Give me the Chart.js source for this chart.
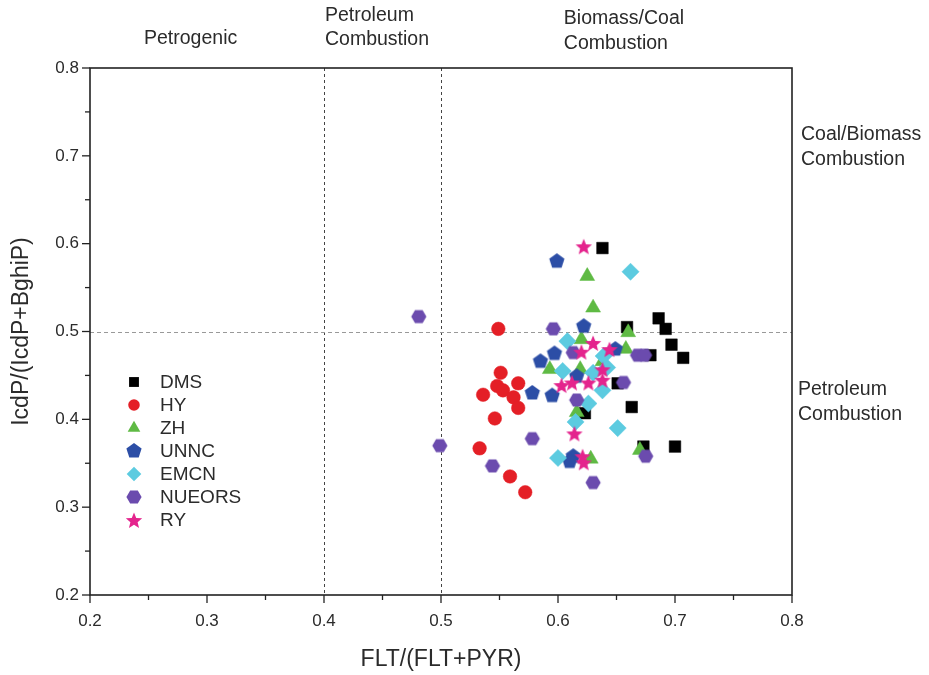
<!DOCTYPE html>
<html>
<head>
<meta charset="utf-8">
<script src="https://cdn.jsdelivr.net/npm/chart.js@4.4.0/dist/chart.umd.min.js"></script>
<style>
  html, body { margin: 0; padding: 0; background: #fff; }
  #wrap { width: 929px; height: 675px; }
</style>
</head>
<body>
<div id="wrap"><canvas id="pahChart" width="929" height="675"></canvas></div>
<script>
// sampling sites and their colours
const sites = ["DMS", "HY", "ZH", "UNNC", "EMCN", "NUEORS", "RY"];
const siteColors = ["#000000", "#e41f26", "#5fba44", "#2c4ea6", "#5ccbe0", "#6b4bae", "#e4248d"];

// FLT/(FLT+PYR) and IcdP/(IcdP+BghiP)
const dmsFlt = [0.638, 0.659, 0.686, 0.692, 0.697, 0.707, 0.679, 0.651, 0.663, 0.623, 0.673, 0.700];
const dmsIcd = [0.595, 0.505, 0.515, 0.503, 0.485, 0.470, 0.473, 0.441, 0.414, 0.407, 0.369, 0.369];
const hyFlt = [0.549, 0.551, 0.548, 0.553, 0.536, 0.566, 0.562, 0.566, 0.546, 0.533, 0.559, 0.572];
const hyIcd = [0.503, 0.453, 0.438, 0.433, 0.428, 0.441, 0.425, 0.413, 0.401, 0.367, 0.335, 0.317];
const zhFlt = [0.625, 0.630, 0.660, 0.620, 0.658, 0.593, 0.619, 0.638, 0.616, 0.628, 0.670];
const zhIcd = [0.563, 0.527, 0.499, 0.491, 0.480, 0.457, 0.457, 0.466, 0.408, 0.355, 0.365];
const unncFlt = [0.599, 0.622, 0.649, 0.597, 0.585, 0.578, 0.595, 0.616, 0.613, 0.610];
const unncIcd = [0.580, 0.506, 0.480, 0.475, 0.466, 0.430, 0.427, 0.449, 0.358, 0.352];
const emcnFlt = [0.662, 0.608, 0.639, 0.604, 0.630, 0.642, 0.638, 0.626, 0.615, 0.651, 0.600];
const emcnIcd = [0.568, 0.489, 0.472, 0.455, 0.453, 0.459, 0.433, 0.418, 0.397, 0.390, 0.356];
const nueorsFlt = [0.481, 0.499, 0.544, 0.596, 0.613, 0.668, 0.674, 0.656, 0.616, 0.578, 0.630, 0.675];
const nueorsIcd = [0.517, 0.370, 0.347, 0.503, 0.476, 0.473, 0.473, 0.442, 0.422, 0.378, 0.328, 0.358];
const ryFlt = [0.622, 0.630, 0.620, 0.644, 0.638, 0.638, 0.603, 0.612, 0.626, 0.614, 0.621, 0.622];
const ryIcd = [0.597, 0.487, 0.477, 0.480, 0.457, 0.445, 0.439, 0.442, 0.442, 0.384, 0.358, 0.351];

const siteFlt = [dmsFlt, hyFlt, zhFlt, unncFlt, emcnFlt, nueorsFlt, ryFlt];
const siteIcd = [dmsIcd, hyIcd, zhIcd, unncIcd, emcnIcd, nueorsIcd, ryIcd];

// axes
const xTickLabels = ["0.2", "0.3", "0.4", "0.5", "0.6", "0.7", "0.8"];
const yTickLabels = ["0.2", "0.3", "0.4", "0.5", "0.6", "0.7", "0.8"];
const fltSplits = [0.4, 0.5];
const icdSplits = [0.5];

// small canvases for the markers chart.js has no filled version of
function polygonMarker(sides, r, color, rot) {
  const c = document.createElement("canvas");
  const s = Math.ceil(2 * r + 2);
  c.width = s; c.height = s;
  const g = c.getContext("2d");
  g.fillStyle = color;
  g.beginPath();
  for (let i = 0; i < sides; i++) {
    const a = rot + i * 2 * Math.PI / sides;
    g.lineTo(s / 2 + r * Math.cos(a), s / 2 + r * Math.sin(a));
  }
  g.closePath();
  g.fill();
  return c;
}
function starMarker(ro, ri, color) {
  const c = document.createElement("canvas");
  const s = Math.ceil(2 * ro + 2);
  c.width = s; c.height = s;
  const g = c.getContext("2d");
  g.fillStyle = color;
  g.beginPath();
  for (let i = 0; i < 10; i++) {
    const r = i % 2 ? ri : ro;
    const a = -Math.PI / 2 + i * Math.PI / 5;
    g.lineTo(s / 2 + r * Math.cos(a), s / 2 + 1 + r * Math.sin(a));
  }
  g.closePath();
  g.fill();
  return c;
}

const markers = [
  { pointStyle: "rect", radius: 8.2 },
  { pointStyle: "circle", radius: 6.8 },
  { pointStyle: "triangle", radius: 8.6 },
  { pointStyle: polygonMarker(5, 8, siteColors[3], -Math.PI / 2), radius: 7.5 },
  { pointStyle: "rectRot", radius: 8.6 },
  { pointStyle: polygonMarker(6, 7.6, siteColors[5], 0), radius: 7.5 },
  { pointStyle: starMarker(8.6, 3.8, siteColors[6]), radius: 7.5 }
];

const datasets = sites.map((name, i) => ({
  label: name,
  data: siteFlt[i].map((v, k) => ({ x: v, y: siteIcd[i][k] })),
  backgroundColor: siteColors[i],
  borderColor: siteColors[i],
  borderWidth: 0.5,
  pointStyle: markers[i].pointStyle,
  pointRadius: markers[i].radius,
  pointHoverRadius: markers[i].radius,
  order: sites.length - i
}));

const textColor = "#2b2b2b";
const fontFamily = "'Liberation Sans', Arial, sans-serif";

const decorPlugin = {
  id: "decor",
  beforeDatasetsDraw(chart) {
    const { ctx, chartArea: a, scales: { x, y } } = chart;
    ctx.save();
    ctx.lineWidth = 1;
    ctx.strokeStyle = "#444";
    ctx.setLineDash([3, 3]);
    fltSplits.forEach(v => {
      const px = Math.round(x.getPixelForValue(v)) + 0.5;
      ctx.beginPath(); ctx.moveTo(px, a.top); ctx.lineTo(px, a.bottom); ctx.stroke();
    });
    ctx.strokeStyle = "#999";
    ctx.setLineDash([4, 3]);
    icdSplits.forEach(v => {
      const py = Math.round(y.getPixelForValue(v)) + 0.5;
      ctx.beginPath(); ctx.moveTo(a.left, py); ctx.lineTo(a.right, py); ctx.stroke();
    });
    ctx.restore();
  },
  afterDraw(chart) {
    const { ctx, chartArea: a, scales: { x, y } } = chart;
    ctx.save();
    // frame
    ctx.strokeStyle = "#222";
    ctx.lineWidth = 1.6;
    ctx.strokeRect(a.left, a.top, a.right - a.left, a.bottom - a.top);
    // major and minor ticks on bottom and left
    ctx.lineWidth = 1.3;
    for (let k = 0; k <= 12; k++) {
      const v = 0.2 + k * 0.05;
      const len = k % 2 ? 5 : 8;
      const px = x.getPixelForValue(v);
      ctx.beginPath(); ctx.moveTo(px, a.bottom); ctx.lineTo(px, a.bottom + len); ctx.stroke();
      const py = y.getPixelForValue(v);
      ctx.beginPath(); ctx.moveTo(a.left, py); ctx.lineTo(a.left - len, py); ctx.stroke();
    }
    // region labels
    ctx.fillStyle = textColor;
    ctx.font = "19.5px " + fontFamily;
    ctx.textBaseline = "middle";
    ctx.textAlign = "center";
    ctx.fillText("Petrogenic", x.getPixelForValue(0.286), a.top - 29);
    ctx.textAlign = "left";
    const p4 = x.getPixelForValue(0.4) + 1;
    ctx.fillText("Petroleum", p4, a.top - 52);
    ctx.fillText("Combustion", p4, a.top - 28);
    const p6 = x.getPixelForValue(0.605);
    ctx.fillText("Biomass/Coal", p6, a.top - 49);
    ctx.fillText("Combustion", p6, a.top - 24);
    ctx.fillText("Coal/Biomass", a.right + 9, y.getPixelForValue(0.71) - 12);
    ctx.fillText("Combustion", a.right + 9, y.getPixelForValue(0.71) + 13);
    ctx.fillText("Petroleum", a.right + 6, y.getPixelForValue(0.42) - 12);
    ctx.fillText("Combustion", a.right + 6, y.getPixelForValue(0.42) + 13);
    // legend inside the plot
    ctx.font = "19px " + fontFamily;
    const lx = a.left + 44, ly = a.top + 314;
    sites.forEach((name, i) => {
      const cy = ly + i * 23;
      ctx.fillStyle = siteColors[i];
      ctx.strokeStyle = siteColors[i];
      Chart.helpers.drawPoint(ctx, {
        pointStyle: markers[i].pointStyle, radius: markers[i].radius * 0.85, rotation: 0, borderWidth: 0
      }, lx, cy);
      ctx.fillStyle = textColor;
      ctx.fillText(name, lx + 26, cy + 1);
    });
    ctx.restore();
  }
};

const ctx = document.getElementById("pahChart").getContext("2d");
const pahChart = new Chart(ctx, {
  type: "scatter",
  data: { datasets },
  options: {
    responsive: false,
    animation: false,
    events: [],
    layout: { padding: { top: 68, right: 137, left: 0, bottom: 0 } },
    plugins: { legend: { display: false }, tooltip: { enabled: false } },
    scales: {
      x: {
        type: "linear",
        min: 0.2, max: 0.8,
        afterFit: s => { s.height = 80; },
        grid: { display: false },
        border: { display: false },
        ticks: {
          stepSize: 0.1, padding: 8, color: textColor,
          font: { size: 17, family: fontFamily },
          callback: v => xTickLabels[Math.round((v - 0.2) * 10)]
        },
        title: {
          display: true, text: "FLT/(FLT+PYR)", color: textColor,
          font: { size: 23, family: fontFamily }, padding: { bottom: 2 }
        }
      },
      y: {
        type: "linear",
        min: 0.2, max: 0.8,
        afterFit: s => { s.width = 90; },
        grid: { display: false },
        border: { display: false },
        ticks: {
          stepSize: 0.1, padding: 3, color: textColor,
          font: { size: 17, family: fontFamily },
          callback: v => yTickLabels[Math.round((v - 0.2) * 10)]
        },
        title: {
          display: true, text: "IcdP/(IcdP+BghiP)", color: textColor,
          font: { size: 23, family: fontFamily }, padding: { top: 8 }
        }
      }
    }
  },
  plugins: [decorPlugin]
});
</script>
</body>
</html>
